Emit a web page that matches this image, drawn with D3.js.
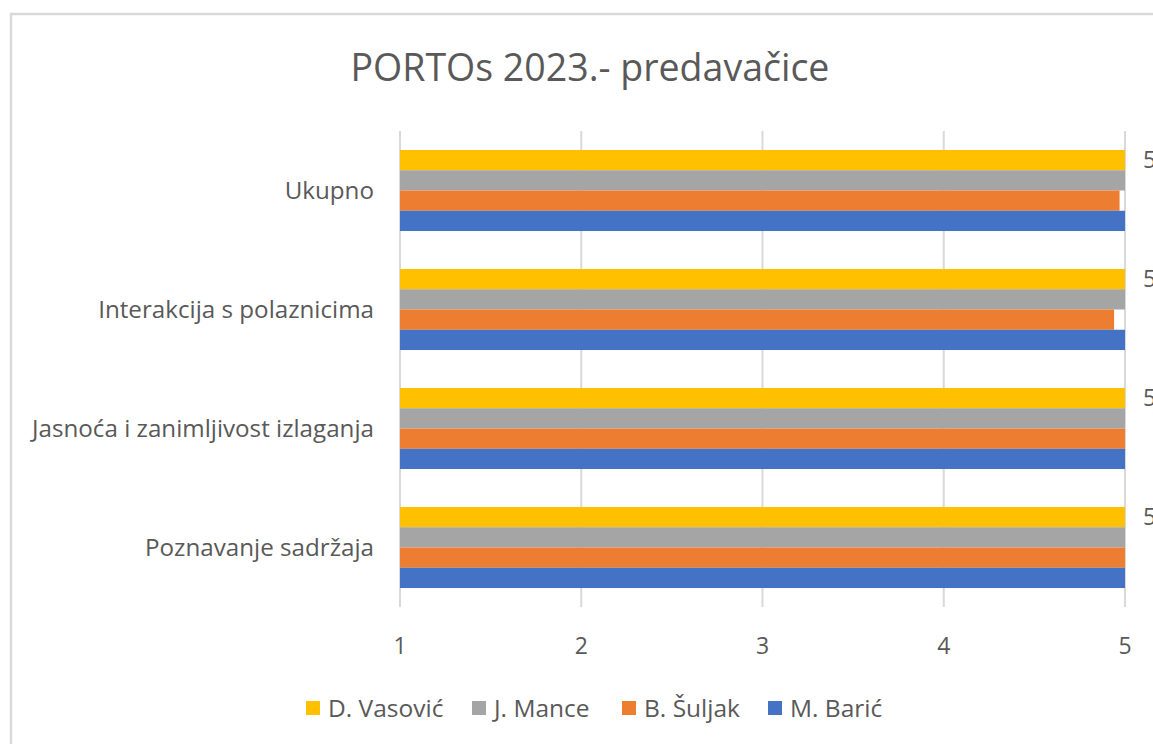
<!DOCTYPE html>
<html>
<head>
<meta charset="utf-8">
<script src="https://cdn.jsdelivr.net/npm/d3@7"></script>
<style>
  html, body { margin: 0; padding: 0; background: #fff; overflow: hidden; }
  svg { display: block; }
</style>
</head>
<body>
<div id="chart-container"></div>
<script>
// Kategorije (odozgo prema dolje)
const categories = ["Ukupno", "Interakcija s polaznicima", "Jasnoća i zanimljivost izlaganja", "Poznavanje sadržaja"];

// Serije (redoslijed unutar grupe, odozgo prema dolje)
const seriesNames = ["D. Vasović", "J. Mance", "B. Šuljak", "M. Barić"];
const vasovic = [5, 5, 5, 5];
const mance = [5, 5, 5, 5];
const suljak = [4.97, 4.94, 5, 5];
const baric = [5, 5, 5, 5];
const seriesColors = ["#FFC000", "#A5A5A5", "#ED7D31", "#4472C4"];

const xTicks = [1, 2, 3, 4, 5];

const W = 1153, H = 744;
const font = "'Open Sans', 'Noto Sans', sans-serif";
const textColor = "#595959";
const gridColor = "#d9d9d9";

const svg = d3.select("#chart-container").append("svg")
    .attr("width", W)
    .attr("height", H)
    .style("font-family", font);

// Okvir grafikona
svg.append("rect")
    .attr("x", 11).attr("y", 14)
    .attr("width", 1300).attr("height", 900)
    .attr("fill", "#fff")
    .attr("stroke", gridColor)
    .attr("stroke-width", 2.5);

// Naslov
svg.append("text")
    .attr("x", 590)
    .attr("y", 81)
    .attr("text-anchor", "middle")
    .attr("fill", textColor)
    .style("font-size", "37.5px")
    .text("PORTOs 2023.- predavačice");

// Skale
const x = d3.scaleLinear().domain([1, 5]).range([400, 1125]);
const y = d3.scaleBand().domain(categories).range([131, 607]).paddingInner(0.319).paddingOuter(0.1595);
const ySub = d3.scaleBand().domain(seriesNames).range([0, y.bandwidth()]);

const seriesData = [vasovic, mance, suljak, baric];

// Mreža
svg.append("g")
    .selectAll("line")
    .data(xTicks)
    .join("line")
    .attr("x1", d => x(d))
    .attr("x2", d => x(d))
    .attr("y1", 131)
    .attr("y2", 607)
    .attr("stroke", gridColor)
    .attr("stroke-width", 2);

// Stupci
const groups = svg.append("g")
    .selectAll("g")
    .data(categories)
    .join("g")
    .attr("transform", d => `translate(0,${y(d)})`);

groups.selectAll("rect")
    .data((c, i) => seriesNames.map((s, j) => ({ s, v: seriesData[j][i], color: seriesColors[j] })))
    .join("rect")
    .attr("x", x(1))
    .attr("y", d => ySub(d.s))
    .attr("width", d => x(d.v) - x(1))
    .attr("height", ySub.bandwidth())
    .attr("fill", d => d.color);

// Oznake podataka (u originalu odrezane desnim rubom)
groups.append("text")
    .attr("x", (c, i) => x(vasovic[i]) + 18)
    .attr("y", ySub("D. Vasović") + ySub.bandwidth() / 2)
    .attr("dy", "0.35em")
    .attr("fill", textColor)
    .style("font-size", "23px")
    .text((c, i) => vasovic[i]);

// Os y - nazivi kategorija
svg.append("g")
    .selectAll("text")
    .data(categories)
    .join("text")
    .attr("x", 374)
    .attr("y", d => y(d) + y.bandwidth() / 2)
    .attr("dy", "0.35em")
    .attr("text-anchor", "end")
    .attr("fill", textColor)
    .style("font-size", "24.2px")
    .text(d => d);

// Os x - oznake
svg.append("g")
    .selectAll("text")
    .data(xTicks)
    .join("text")
    .attr("x", d => x(d))
    .attr("y", 654)
    .attr("text-anchor", "middle")
    .attr("fill", textColor)
    .style("font-size", "23px")
    .text(d => d);

// Legenda
const legendX = [306, 472, 622, 768];
const legend = svg.append("g")
    .selectAll("g")
    .data(seriesNames)
    .join("g")
    .attr("transform", (d, i) => `translate(${legendX[i]},701)`);

legend.append("rect")
    .attr("width", 14)
    .attr("height", 14)
    .attr("fill", (d, i) => seriesColors[i]);

legend.append("text")
    .attr("x", 22)
    .attr("y", 16)
    .attr("fill", textColor)
    .style("font-size", "24.5px")
    .text(d => d);
</script>
</body>
</html>
